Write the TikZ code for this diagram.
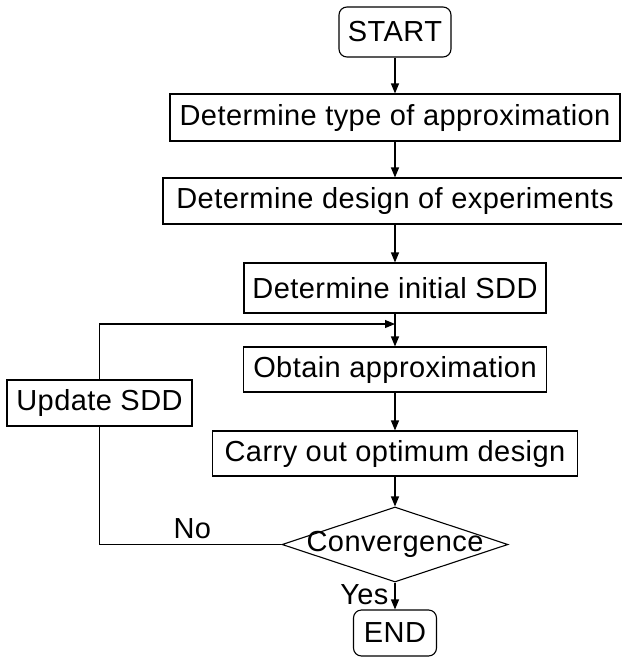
\documentclass[tikz,border=0pt]{standalone}
\usepackage{fontspec}
\setmainfont[LetterSpace=1.5]{Liberation Sans}
\usetikzlibrary{shapes.geometric,arrows.meta}
\newcommand{\fcfont}{\fontsize{29}{32}\selectfont}
\tikzset{
  fcbox/.style={rectangle, draw=black, line width=1.1pt, inner sep=0pt, font=\fcfont},
  fcterm/.style={fcbox, rounded corners=8pt},
  fcdecide/.style={diamond, draw=black, line width=1.1pt, inner sep=0pt, minimum width=226pt, minimum height=75pt},
  fcline/.style={draw=black, line width=1.1pt},
  fcarrow/.style={fcline, -{Triangle[length=10pt,width=8pt]}},
  fclabel/.style={font=\fcfont, inner sep=0pt},
}

\begin{document}
\begin{tikzpicture}[x=1pt,y=-1pt]
\useasboundingbox (0,0) rectangle (622,657);
% main column
\node[fcterm, minimum width=112pt, minimum height=50pt] (start) at (395,32) {START};
\node[fcbox, minimum width=450pt, minimum height=47pt] (approx) at (395,117.5) {Determine type of approximation};
\node[fcbox, minimum width=464pt, minimum height=46pt] (doe) at (395,201) {Determine design of experiments};
\node[fcbox, minimum width=302pt, minimum height=50pt] (initsdd) at (395,288) {Determine initial SDD};
\node[fcbox, minimum width=303pt, minimum height=45pt] (obtain) at (395,369.5) {Obtain approximation};
\node[fcbox, minimum width=365pt, minimum height=45pt] (optim) at (395,453.5) {Carry out optimum design};
\node[fcdecide, label={[fclabel, name=convtext]center:Convergence}] (conv) at (395,544.5) {};
\node[fcterm, minimum width=83pt, minimum height=46pt] (end) at (395,633) {END};
% loop back
\node[fcbox, minimum width=185pt, minimum height=46pt] (update) at (99.5,403) {Update SDD};
\coordinate (merge) at (395,324);

\draw[fcarrow] (start) -- (approx);
\draw[fcarrow] (approx) -- (doe);
\draw[fcarrow] (doe) -- (initsdd);
\draw[fcarrow] (initsdd) -- (obtain);
\draw[fcarrow] (obtain) -- (optim);
\draw[fcarrow] (optim) -- (conv);
\draw[fcarrow] (conv) -- node[fclabel, left=6pt, pos=0.45] {Yes} (end);
\draw[fcline] (conv.west) -- node[fclabel, above=5pt, pos=0.49] {No} (conv.west -| update) -- (update);
\draw[fcarrow] (update) |- (merge);
\end{tikzpicture}
\end{document}
